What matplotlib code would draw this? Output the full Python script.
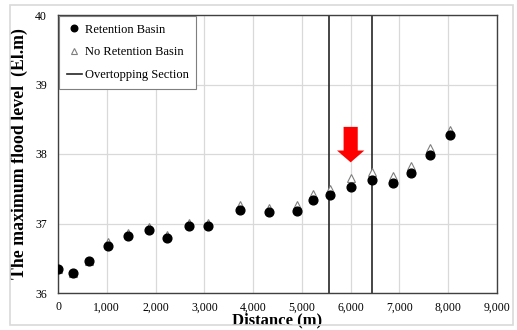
"""Maximum flood level along the channel, with and without a retention basin."""
import matplotlib
matplotlib.use("Agg")
import matplotlib.pyplot as plt
from matplotlib.patches import Rectangle

# distance along the river (m)
distance = [0, 300, 630, 1030, 1430, 1870, 2230, 2680, 3080, 3730,
            4320, 4900, 5230, 5570, 6000, 6440, 6870, 7240, 7630, 8030]
# max flood level with retention basin (El.m)
with_basin = [36.34, 36.29, 36.46, 36.68, 36.82, 36.90, 36.79, 36.96, 36.96, 37.19,
              37.16, 37.18, 37.34, 37.41, 37.53, 37.62, 37.58, 37.72, 37.99, 38.27]
# max flood level without retention basin (El.m)
no_basin = [36.34, 36.29, 36.46, 36.73, 36.87, 36.95, 36.84, 37.01, 37.01, 37.27,
            37.23, 37.26, 37.42, 37.49, 37.65, 37.74, 37.69, 37.83, 38.09, 38.35]
# overtopping section bounds (m)
overtop = [5560, 6440]
# red marker arrow
arrow_x = 6000
arrow_top = 38.39
arrow_tip = 37.88

_SERIF = ["Liberation Serif", "DejaVu Serif"]
plt.rcParams["font.family"] = _SERIF

fig = plt.figure(figsize=(5.17, 3.30), dpi=100)
fig.patches.append(Rectangle((10 / 517, 5 / 330), 503 / 517, 320 / 330,
                             transform=fig.transFigure, fill=False,
                             edgecolor="#d9d9d9", linewidth=1.2))
ax = fig.add_axes([58 / 517, 37 / 330, 439 / 517, 278 / 330])

ax.plot(distance, no_basin, linestyle="none", marker="^", markersize=6,
        markerfacecolor="white", markeredgecolor="#7f7f7f", markeredgewidth=0.8,
        label="No Retention Basin", zorder=3)
ax.plot(distance, with_basin, linestyle="none", marker="o", markersize=6.3,
        color="black", label="Retention Basin", zorder=4)
for i, xv in enumerate(overtop):
    ax.axvline(xv, color="#262626", linewidth=1.2, zorder=2,
               label="Overtopping Section" if i == 0 else None)

ax.arrow(arrow_x, arrow_top, 0, arrow_tip - arrow_top, width=290,
         head_width=560, head_length=0.17, length_includes_head=True,
         color="#ff0000", linewidth=0, zorder=5)

ax.set_xlim(0, 9000)
ax.set_ylim(36, 40)
ax.set_xticks(range(0, 9001, 1000))
ax.set_yticks([36, 37, 38, 39, 40])
ax.set_xticklabels([f"{v:,}" for v in range(0, 9001, 1000)])
ax.tick_params(length=0, labelsize=8.5)
ax.tick_params(axis="x", pad=6)
ax.tick_params(axis="y", pad=8)
ax.grid(True, color="#d9d9d9", linewidth=0.9)
ax.set_axisbelow(True)
for s in ax.spines.values():
    s.set_color("#404040")
    s.set_linewidth(1.0)

ax.set_xlabel("Distance (m)", fontsize=12, fontweight="bold", labelpad=-1)
ax.set_ylabel("The maximum flood level  (El.m)", fontsize=12.8,
              fontweight="bold", labelpad=5)

h, l = ax.get_legend_handles_labels()
order = [l.index("Retention Basin"), l.index("No Retention Basin"),
         l.index("Overtopping Section")]
leg = ax.legend([h[i] for i in order], [l[i] for i in order], loc="upper left",
                fontsize=9, fancybox=False, edgecolor="#7f7f7f",
                framealpha=1, handlelength=1.2, handletextpad=0.25,
                markerscale=0.75, borderaxespad=0.1, labelspacing=0.85,
                borderpad=0.6)
leg.get_frame().set_linewidth(0.8)

fig.savefig("out.png", dpi=100)
